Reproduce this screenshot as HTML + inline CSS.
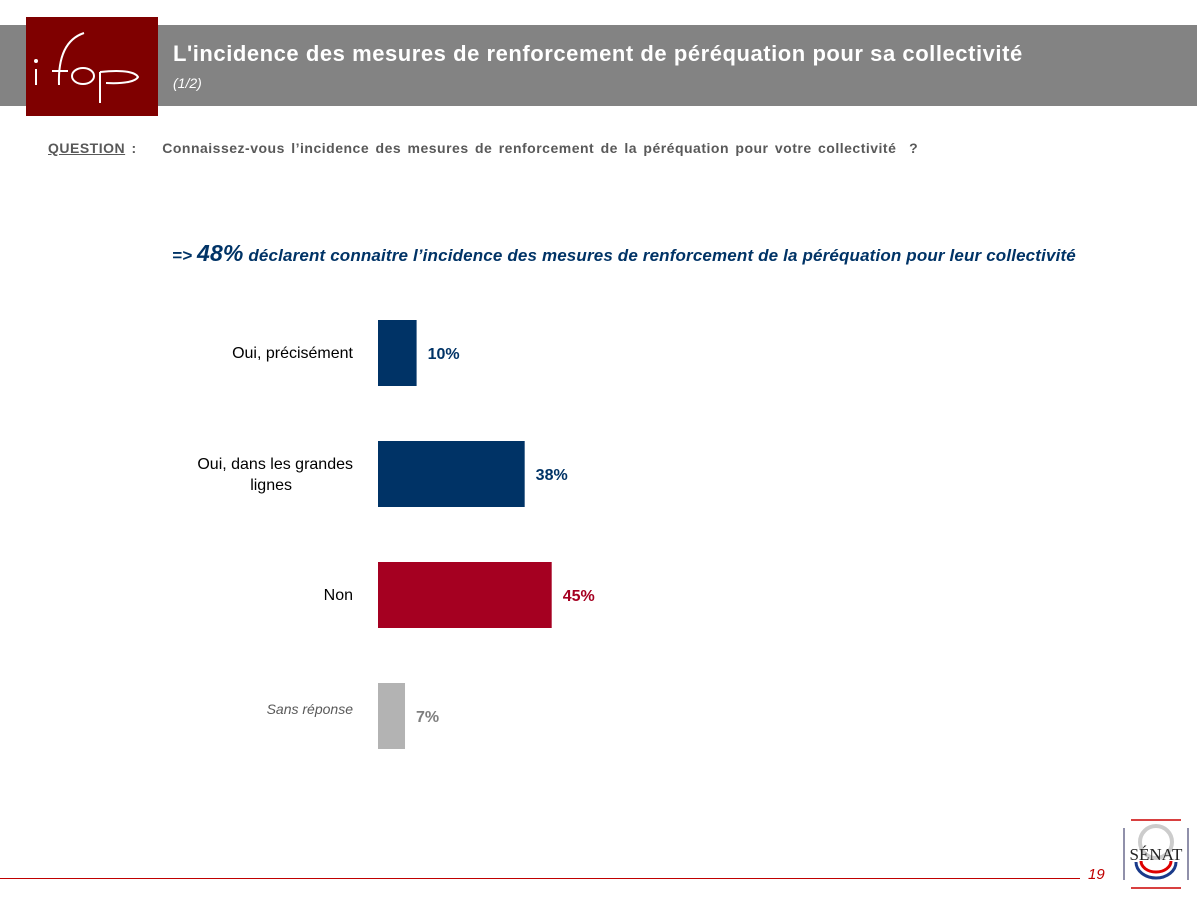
<!DOCTYPE html>
<html><head><meta charset="utf-8"><style>
body{margin:0;width:1197px;height:898px;background:#fff;position:relative;overflow:hidden;font-family:"Liberation Sans",sans-serif}
.abs{position:absolute}
</style></head><body>
<div class="abs" style="left:0;top:25px;width:1197px;height:81px;background:#838383"></div>
<div class="abs" style="left:26px;top:17px;width:132px;height:99px;background:#7f0000">
<svg width="132" height="99"><g stroke="#fff" stroke-width="2" fill="none"><line x1="10" y1="52" x2="10" y2="68"/><circle cx="10" cy="44" r="1" fill="#fff"/><path d="M33 68 C32 40 40 22 58 16"/><line x1="26" y1="54" x2="42" y2="54"/><ellipse cx="57" cy="59" rx="11" ry="8"/><line x1="74" y1="55" x2="74" y2="86"/><path d="M74 55 C100 52 110 56 112 60 C110 64 100 67 80 66"/></g></svg>
</div>
<div class="abs" style="left:173px;top:41px;color:#fff;font-size:22px;font-weight:bold;letter-spacing:0.55px">L'incidence des mesures de renforcement de péréquation pour sa collectivité</div>
<div class="abs" style="left:173px;top:75px;color:#fff;font-size:14px;font-style:italic">(1/2)</div>
<div class="abs" style="left:48px;top:140px;color:#595959;font-size:14px;font-weight:bold;letter-spacing:0.5px;word-spacing:2px"><span style="text-decoration:underline">QUESTION</span> :&nbsp;&nbsp;&nbsp; Connaissez-vous l’incidence des mesures de renforcement de la péréquation pour votre collectivité&nbsp; ?</div>
<div class="abs" style="left:172px;top:240px;color:#003366;font-size:17px;font-weight:bold;font-style:italic;letter-spacing:0.15px">=&gt; <span style="font-size:23px">48%</span> déclarent connaitre l’incidence des mesures de renforcement de la péréquation pour leur collectivité</div>
<svg class="abs" style="left:0;top:0" width="1197" height="898" id="chart"></svg>
<div class="abs" style="left:0;top:878px;width:1080px;height:1px;background:#c00000"></div>
<div class="abs" style="left:1088px;top:866px;color:#c00000;font-size:15px;font-style:italic">19</div>
<div class="abs" style="left:1123px;top:818px;width:66px;height:72px">
<svg width="66" height="72"><line x1="8" y1="2" x2="58" y2="2" stroke="#c00" stroke-width="1.5"/><line x1="8" y1="70" x2="58" y2="70" stroke="#c00" stroke-width="1.5"/><line x1="1" y1="10" x2="1" y2="62" stroke="#225" /><line x1="65" y1="10" x2="65" y2="62" stroke="#225"/><circle cx="33" cy="24" r="16" fill="none" stroke="#ccc" stroke-width="4"/><path d="M13 44 A20 16 0 0 0 53 44" fill="none" stroke="#1a3a8a" stroke-width="3"/><path d="M18 43 A15 11 0 0 0 48 43" fill="none" stroke="#d00" stroke-width="3"/><text x="33" y="42" text-anchor="middle" font-family="Liberation Serif,serif" font-size="17" fill="#222">SÉNAT</text></svg>
</div>
<script>
const categories=["Oui, précisément","Oui, dans les grandes lignes","Non","Sans réponse"];
const values=[10,38,45,7];
const colors=["#003366","#003366","#a50021","#b3b3b3"];
const svg=document.getElementById('chart');const NS="http://www.w3.org/2000/svg";
const x0=378,pxPer=3.86,y0=320,step=121,bh=66;
function xs(v){return v*pxPer;}
categories.forEach((c,i)=>{
 const y=y0+i*step;
 const r=document.createElementNS(NS,'rect');
 
 
 r.setAttribute('x',x0);r.setAttribute('y',y);r.setAttribute('width',xs(values[i]));r.setAttribute('height',bh);r.setAttribute('fill',colors[i]);svg.appendChild(r);
 const t=document.createElementNS(NS,'text');
 
 
 t.setAttribute('x',x0+xs(values[i])+11);t.setAttribute('y',y+bh/2+6);t.setAttribute('font-size','16');t.setAttribute('font-weight','bold');t.setAttribute('fill',i==3?'#7f7f7f':colors[i]);t.textContent=values[i]+'%';svg.appendChild(t);
 const l=document.createElementNS(NS,'text');
 
 
 l.setAttribute('text-anchor','end');l.setAttribute('x',353);
 l.setAttribute('font-size',i==3?'14':'16');l.setAttribute('fill',i==3?'#595959':'#000');
 if(i==3)l.setAttribute('font-style','italic');
 if(i==1){l.setAttribute('y',y+28);const a=document.createElementNS(NS,'tspan');a.setAttribute('x',353);a.textContent='Oui, dans les grandes';const b=document.createElementNS(NS,'tspan');b.setAttribute('x',292);b.setAttribute('dy','21');b.textContent='lignes';l.appendChild(a);l.appendChild(b);}
 else{l.setAttribute('y',y+bh/2+(i==3?-2:5));l.textContent=c;}
 svg.appendChild(l);
});
</script>
</body></html>
